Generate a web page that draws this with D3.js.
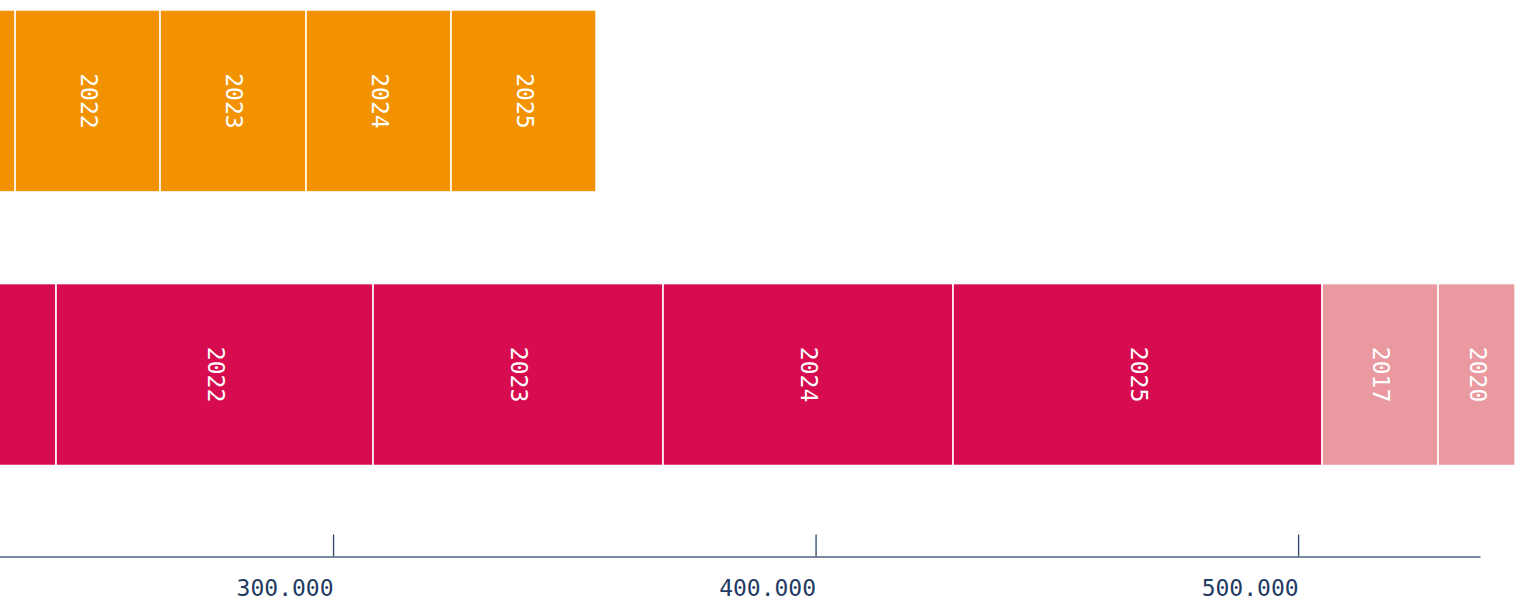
<!DOCTYPE html>
<html>
<head>
<meta charset="utf-8">
<script src="https://cdn.jsdelivr.net/npm/d3@7"></script>
<style>
  html, body { margin: 0; padding: 0; background: #ffffff; overflow: hidden; }
  svg { display: block; font-family: "DejaVu Sans Mono", monospace; }
</style>
</head>
<body>
<svg id="chart" width="1525" height="601"></svg>
<script>
// Rows of the stacked bars
const rows = ["upper", "lower"];

// Upper row: yearly amounts, stacked after the earlier total
const upperStart = 204000;
const upperYears = ["2021", "2022", "2023", "2024", "2025"];
const upperValues = [30100, 30050, 30250, 30050, 30050];
const upperKinds = ["main", "main", "main", "main", "main"];

// Lower row: yearly amounts, followed by two carried-over years
const lowerStart = 182590;
const lowerYears = ["2021", "2022", "2023", "2024", "2025", "2017", "2020"];
const lowerValues = [60000, 65700, 60100, 60100, 76480, 24040, 15960];
const lowerKinds = ["main", "main", "main", "main", "main", "carry", "carry"];

// Axis ticks in the visible window
const tickValues = [300000, 400000, 500000];
const xMax = 537700;

const palette = {
  upper: { main: "#f39200", carry: "#f7c27a" },
  lower: { main: "#d70c50", carry: "#e9999f" }
};

const W = 1525;
const svg = d3.select("#chart");

const x = d3.scaleLinear().domain([0, xMax]).range([-1114.5, 1480]);
const y = d3.scaleBand().domain(rows).range([10, 465.5]).paddingInner(0.335).paddingOuter(0);

function stack(start, years, values, kinds) {
  let acc = start;
  return years.map((yr, i) => {
    const d = { year: yr, x0: acc, x1: acc + values[i], kind: kinds[i] };
    acc += values[i];
    return d;
  });
}

const rowData = {
  upper: stack(upperStart, upperYears, upperValues, upperKinds),
  lower: stack(lowerStart, lowerYears, lowerValues, lowerKinds)
};

const mid = d => (x(d.x0) + x(d.x1)) / 2;

rows.forEach(r => {
  const g = svg.append("g").attr("class", "row-" + r);
  g.selectAll("rect").data(rowData[r]).join("rect")
    .attr("x", d => x(d.x0))
    .attr("y", y(r))
    .attr("width", d => x(d.x1) - x(d.x0))
    .attr("height", y.bandwidth())
    .attr("fill", d => palette[r][d.kind])
    .attr("stroke", "#ffffff")
    .attr("stroke-width", 1.5);
  // Year labels only where the segment's centre is inside the view
  g.selectAll("text").data(rowData[r].filter(d => mid(d) > 0 && mid(d) < W)).join("text")
    .attr("transform", d => `translate(${mid(d)},${y(r) + y.bandwidth() / 2}) rotate(90)`)
    .attr("text-anchor", "middle")
    .attr("dy", "0.3em")
    .attr("fill", "#ffffff")
    .style("font-size", "23px")
    .text(d => d.year);
});

// Bottom axis with upward ticks and dotted thousands
const locale = d3.formatLocale({ decimal: ",", thousands: ".", grouping: [3], currency: ["", "€"] });
const fmt = locale.format(",d");

const axisY = 556.5;
const axis = d3.axisBottom(x).tickValues(tickValues).tickFormat(fmt).tickSizeInner(-22).tickSizeOuter(0);
const ag = svg.append("g").attr("transform", `translate(0,${axisY})`).call(axis);
ag.select(".domain").attr("stroke", "#4d6380").attr("stroke-width", 1.3);
ag.selectAll(".tick line").attr("stroke", "#2c4466").attr("stroke-width", 1.3);
ag.selectAll(".tick text")
  .attr("y", 39)
  .attr("dy", 0)
  .attr("text-anchor", "end")
  .attr("fill", "#1f3b63")
  .style("font-family", "'DejaVu Sans Mono', monospace")
  .style("font-size", "23px");
</script>
</body>
</html>
